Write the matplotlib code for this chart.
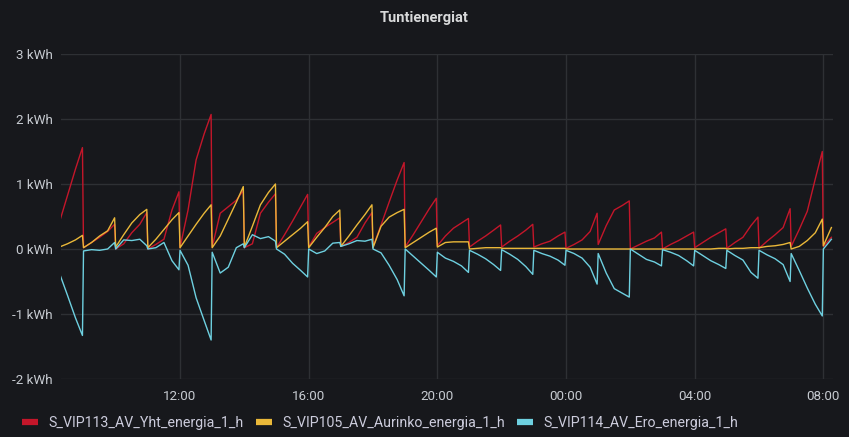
import pandas as pd
import numpy as np
import matplotlib
matplotlib.use('Agg')
import matplotlib.pyplot as plt
import matplotlib.dates as mdates
from matplotlib.lines import Line2D

plt.rcParams['font.family'] = ['Roboto', 'DejaVu Sans']

# hourly energy counters, sampled at these minutes of every hour
hour_starts = pd.date_range('2021-03-15 08:00', periods=25, freq='h')
minute_marks = [0, 15, 30, 45, 58]

yht = [
    0.0, 0.41, 0.82, 1.23, 1.56,     # 08
    0.02, 0.1, 0.18, 0.27, 0.38,     # 09
    0.0, 0.08, 0.25, 0.38, 0.56,     # 10
    0.0, 0.07, 0.15, 0.6, 0.88,      # 11
    0.02, 0.6, 1.37, 1.77, 2.07,     # 12
    0.03, 0.55, 0.65, 0.75, 0.9,     # 13
    0.02, 0.08, 0.55, 0.72, 0.85,    # 14
    0.02, 0.22, 0.43, 0.65, 0.84,    # 15
    0.03, 0.24, 0.33, 0.41, 0.48,    # 16
    0.04, 0.1, 0.18, 0.4, 0.56,      # 17
    0.03, 0.37, 0.72, 1.06, 1.33,    # 18
    0.03, 0.22, 0.42, 0.62, 0.78,    # 19
    0.05, 0.2, 0.32, 0.4, 0.47,      # 20
    0.03, 0.12, 0.2, 0.29, 0.37,     # 21
    0.03, 0.12, 0.2, 0.29, 0.38,     # 22
    0.03, 0.08, 0.12, 0.2, 0.26,     # 23
    0.01, 0.07, 0.14, 0.27, 0.55,    # 00
    0.07, 0.36, 0.6, 0.67, 0.74,     # 01
    0.0, 0.06, 0.12, 0.17, 0.26,     # 02
    0.0, 0.07, 0.13, 0.2, 0.26,      # 03
    0.02, 0.1, 0.18, 0.25, 0.31,     # 04
    0.01, 0.1, 0.18, 0.36, 0.49,     # 05
    0.01, 0.12, 0.22, 0.33, 0.62,    # 06
    0.04, 0.3, 0.58, 1.08, 1.5,      # 07
    0.04, 0.18,                      # 08
]

aurinko = [
    0.0, 0.03, 0.08, 0.14, 0.21,     # 08
    0.02, 0.1, 0.2, 0.28, 0.48,      # 09
    0.03, 0.22, 0.4, 0.53, 0.61,     # 10
    0.02, 0.15, 0.3, 0.45, 0.56,     # 11
    0.02, 0.2, 0.38, 0.55, 0.68,     # 12
    0.02, 0.2, 0.46, 0.72, 0.96,     # 13
    0.03, 0.35, 0.68, 0.87, 1.0,     # 14
    0.02, 0.12, 0.22, 0.32, 0.42,    # 15
    0.02, 0.18, 0.33, 0.5, 0.6,      # 16
    0.04, 0.2, 0.37, 0.53, 0.68,     # 17
    0.02, 0.35, 0.49, 0.56, 0.61,    # 18
    0.02, 0.1, 0.18, 0.26, 0.32,     # 19
    0.03, 0.1, 0.11, 0.11, 0.11,     # 20
    0.0, 0.01, 0.02, 0.02, 0.02,     # 21
    0.01, 0.01, 0.01, 0.01, 0.01,    # 22
    0.01, 0.01, 0.01, 0.01, 0.01,    # 23
    0.0, 0.0, 0.0, 0.0, 0.0,         # 00
    0.0, 0.0, 0.0, 0.0, 0.0,         # 01
    0.0, 0.0, 0.0, 0.0, 0.0,         # 02
    0.0, 0.0, 0.0, 0.0, 0.0,         # 03
    0.0, 0.0, 0.0, 0.01, 0.01,       # 04
    0.0, 0.01, 0.01, 0.02, 0.02,     # 05
    0.02, 0.04, 0.05, 0.07, 0.1,     # 06
    0.0, 0.04, 0.13, 0.25, 0.46,     # 07
    0.05, 0.33,                      # 08
]

ero = [
    0.0, -0.37, -0.71, -1.06, -1.33,     # 08
    -0.03, -0.01, -0.02, 0.0, 0.1,       # 09
    0.0, 0.14, 0.13, 0.15, 0.05,         # 10
    0.0, 0.02, 0.1, -0.18, -0.32,        # 11
    -0.02, -0.25, -0.75, -1.1, -1.4,     # 12
    -0.05, -0.37, -0.28, 0.02, 0.08,     # 13
    0.02, 0.22, 0.16, 0.19, 0.12,        # 14
    0.0, -0.08, -0.22, -0.33, -0.43,     # 15
    0.0, -0.07, -0.03, 0.09, 0.1,        # 16
    0.04, 0.08, 0.13, 0.12, 0.15,        # 17
    0.0, -0.06, -0.25, -0.47, -0.72,     # 18
    0.0, -0.11, -0.22, -0.33, -0.43,     # 19
    -0.05, -0.14, -0.19, -0.26, -0.36,   # 20
    -0.02, -0.08, -0.15, -0.24, -0.33,   # 21
    -0.01, -0.08, -0.16, -0.27, -0.39,   # 22
    -0.02, -0.07, -0.11, -0.17, -0.25,   # 23
    -0.02, -0.07, -0.14, -0.28, -0.54,   # 00
    -0.07, -0.37, -0.61, -0.68, -0.74,   # 01
    0.0, -0.08, -0.16, -0.2, -0.26,      # 02
    -0.01, -0.05, -0.1, -0.18, -0.26,    # 03
    -0.02, -0.1, -0.18, -0.24, -0.3,     # 04
    -0.02, -0.1, -0.17, -0.36, -0.45,    # 05
    -0.02, -0.09, -0.15, -0.24, -0.5,    # 06
    -0.07, -0.33, -0.6, -0.85, -1.03,    # 07
    0.0, 0.15,                           # 08
]

series_names = ['S_VIP113_AV_Yht_energia_1_h',
                'S_VIP105_AV_Aurinko_energia_1_h',
                'S_VIP114_AV_Ero_energia_1_h']
series_colors = ['#C4162A', '#EAB839', '#6ED0E0']
y_ticks = [-2, -1, 0, 1, 2, 3]

times = [h + pd.Timedelta(minutes=m) for h in hour_starts for m in minute_marks][:len(yht)]

bg = '#17181c'
text_col = '#c7cbd1'
grid_col = '#2e3034'

fig = plt.figure(figsize=(8.49, 4.37), dpi=100, facecolor=bg)
ax = fig.add_axes([61 / 849, 1 - 379 / 437, (833 - 61) / 849, (379 - 54) / 437])
ax.set_facecolor(bg)

for vals, name, col in zip([yht, aurinko, ero], series_names, series_colors):
    ax.plot(times, vals, color=col, lw=1.0, label=name, solid_joinstyle='round')

ax.set_ylim(-2, 3)
ax.set_yticks(y_ticks)
ax.set_yticklabels([f'{v} kWh' for v in y_ticks])
ax.set_xlim(pd.Timestamp('2021-03-15 08:18'), pd.Timestamp('2021-03-16 08:18'))
ax.xaxis.set_major_locator(mdates.HourLocator(byhour=[0, 4, 8, 12, 16, 20]))
ax.xaxis.set_major_formatter(mdates.DateFormatter('%H:%M'))

ax.grid(True, color=grid_col, lw=1.0)
ax.set_axisbelow(True)
for s in ax.spines.values():
    s.set_visible(False)
ax.tick_params(axis='both', length=0, colors=text_col, labelsize=9.6)
ax.tick_params(axis='y', pad=6)
ax.tick_params(axis='x', pad=8)

fig.text(0.5, 1 - 18 / 437, 'Tuntienergiat', ha='center', va='center',
         color='#d8d9da', fontsize=10.5, fontweight='bold')

handles = [Line2D([], [], color=c, lw=4.5, solid_capstyle='butt') for c in series_colors]
fig.legend(handles, series_names, loc='center left',
           bbox_to_anchor=(22 / 849, 1 - 423 / 437), ncol=3, frameon=False,
           borderpad=0, borderaxespad=0, handlelength=1.15, handletextpad=0.72,
           columnspacing=0.85, prop={'size': 10.2}, labelcolor='#ccccdc')

fig.savefig('out.png', dpi=100, facecolor=bg)
